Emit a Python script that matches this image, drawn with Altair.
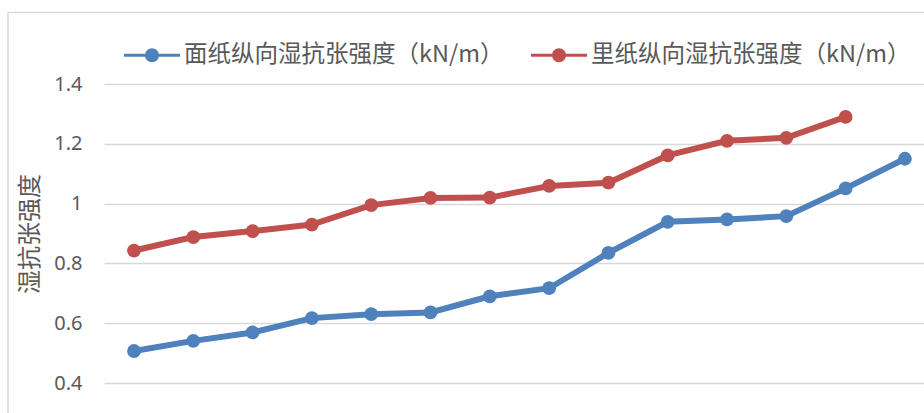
import math
import altair as alt
import pandas as pd

# Sample index along the x axis
samples = list(range(1, 15))

series_face = "面纸纵向湿抗张强度（kN/m）"
series_back = "里纸纵向湿抗张强度（kN/m）"

# Wet tensile strength, machine direction (kN/m)
face_values = [0.507, 0.541, 0.569, 0.617, 0.630, 0.636, 0.690,
               0.717, 0.835, 0.939, 0.947, 0.958, 1.051, 1.150]
back_values = [0.843, 0.888, 0.908, 0.930, 0.995, 1.019, 1.020,
               1.059, 1.070, 1.161, 1.210, 1.220, 1.290]

y_ticks = [0.4, 0.6, 0.8, 1.0, 1.2, 1.4]

rows = [{"sample": s, "series": series_face, "value": v} for s, v in zip(samples, face_values)]
rows += [{"sample": s, "series": series_back, "value": v} for s, v in zip(samples, back_values)]
df = pd.DataFrame(rows)

BLUE = "#4F81BD"
RED = "#C0504D"
GRID = "#D9D9D9"
TEXT = "#595959"

series_domain = [series_face, series_back]
series_range = [BLUE, RED]

# Legend glyph: a short line with a dot in the middle (path units span -1..1)
r = 0.25
h = 0.05
dot = " ".join(
    ("M" if i == 0 else "L")
    + f"{r * math.cos(2 * math.pi * i / 32):.4f},{r * math.sin(2 * math.pi * i / 32):.4f}"
    for i in range(32)
) + " Z"
legend_glyph = f"M-1,{-h} L1,{-h} L1,{h} L-1,{h} Z " + dot

x_enc = alt.X("sample:Q", axis=None,
              scale=alt.Scale(domain=[0.494, 14.322], nice=False, zero=False))
y_enc = alt.Y("value:Q",
              scale=alt.Scale(domain=[0.4, 1.4], nice=False, zero=False),
              axis=alt.Axis(values=y_ticks, format="~g", title="湿抗张强度",
                            grid=True, gridColor=GRID, gridWidth=1.5,
                            ticks=False, domain=False,
                            labelFont="Noto Sans", labelFontSize=20,
                            labelColor=TEXT, labelPadding=22,
                            titleFont="Noto Sans CJK SC", titleFontSize=24,
                            titleFontWeight="normal", titleColor=TEXT,
                            titleX=-74, titleBaseline="middle"))

color_scale = alt.Scale(domain=series_domain, range=series_range)

lines = alt.Chart(df).mark_line(strokeWidth=6).encode(
    x=x_enc,
    y=y_enc,
    color=alt.Color("series:N", scale=color_scale,
                    legend=alt.Legend(title=None, orient="none", direction="horizontal",
                                      legendX=20, legendY=-57,
                                      symbolType=legend_glyph, symbolSize=3136,
                                      symbolStrokeWidth=0,
                                      labelFont="Noto Sans CJK SC", labelFontSize=23.5,
                                      labelColor=TEXT, labelOffset=4,
                                      columnPadding=27, labelLimit=400)),
)

dots = alt.Chart(df).mark_circle(size=190, opacity=1).encode(
    x=x_enc,
    y=y_enc,
    color=alt.Color("series:N", scale=color_scale),
)

# Outer chart frame
frame = alt.Chart(pd.DataFrame({"f": [0]})).mark_rect(
    fill=None, stroke=GRID, strokeWidth=1.5, clip=False
).encode(
    x=alt.value(-96), x2=alt.value(840),
    y=alt.value(-71.5), y2=alt.value(360),
)

chart = alt.layer(frame, lines, dots).properties(
    width=820, height=299,
    padding={"left": 104, "top": 84, "right": 0, "bottom": 30},
    autosize=alt.AutoSizeParams(type="none"),
    background="white",
).configure_view(stroke=None).configure_legend(symbolFillColor=None)

chart.save("out.html", embed_options={"renderer": "svg", "actions": False})
